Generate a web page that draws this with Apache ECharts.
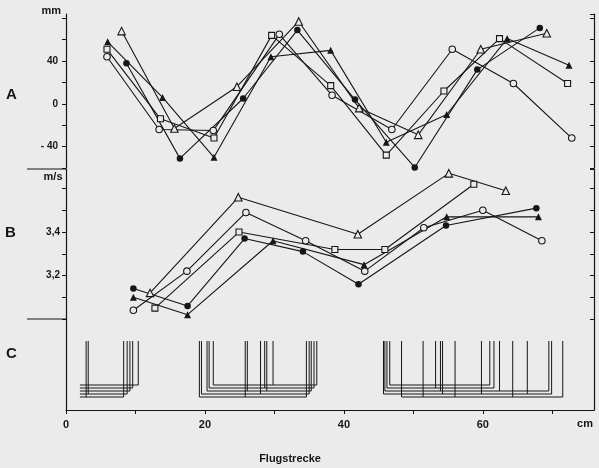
<!DOCTYPE html>
<html><head><meta charset="utf-8">
<script src="https://cdn.jsdelivr.net/npm/echarts@6/dist/echarts.min.js"></script>
<style>html,body{margin:0;padding:0;background:#ebebeb}#c{width:599px;height:468px}</style>
</head><body><div id="c"></div>
<script>
// ---------- Panel A : position (mm) over flight distance (cm) ----------
const aFilledCircleX = [8.7, 16.4, 25.5, 33.3, 41.6, 50.2, 59.2, 68.2];
const aFilledCircleY = [38, -51, 5, 69, 4, -59.5, 32, 71];
const aOpenCircleX   = [5.9, 13.4, 21.2, 30.7, 38.3, 46.9, 55.6, 64.4, 72.8];
const aOpenCircleY   = [44, -24, -25, 65, 8, -24, 51, 19, -32];
const aFilledTriX    = [6.0, 13.9, 21.3, 29.5, 38.1, 46.1, 54.8, 63.5, 72.4];
const aFilledTriY    = [58, 6, -50, 44, 50, -36, -10, 61, 36];
const aOpenTriX      = [8.0, 15.6, 24.6, 33.5, 42.2, 50.7, 59.7, 69.2];
const aOpenTriY      = [68, -23, 16, 77, -4, -29, 51, 66];
const aOpenSquareX   = [5.9, 13.6, 21.3, 29.6, 38.1, 46.1, 54.4, 62.4, 72.2];
const aOpenSquareY   = [51, -14, -32, 64, 17, -48, 12, 61, 19];

// ---------- Panel B : speed (m/s) over flight distance (cm) ----------
const bFilledCircleX = [9.7, 17.5, 25.7, 34.1, 42.1, 54.7, 67.7];
const bFilledCircleY = [3.14, 3.06, 3.37, 3.31, 3.16, 3.43, 3.51];
const bOpenCircleX   = [9.7, 17.4, 25.9, 34.5, 43.0, 51.5, 60.0, 68.5];
const bOpenCircleY   = [3.04, 3.22, 3.49, 3.36, 3.22, 3.42, 3.50, 3.36];
const bFilledTriX    = [9.7, 17.5, 29.8, 42.9, 54.8, 68.0];
const bFilledTriY    = [3.10, 3.02, 3.36, 3.25, 3.47, 3.47];
const bOpenTriX      = [12.1, 24.8, 42.0, 55.1, 63.3];
const bOpenTriY      = [3.12, 3.56, 3.39, 3.67, 3.59];
const bOpenSquareX   = [12.8, 24.9, 38.7, 45.9, 58.7];
const bOpenSquareY   = [3.05, 3.40, 3.32, 3.32, 3.62];

// ---------- Panel C : event records, 5 traces ----------
const cRecordStart = 2.0;
const cTrace0Bursts = [[2.0, 10.4], [21.2, 36.1], [46.6, 61.0]];
const cTrace1Bursts = [[2.0, 9.6],  [20.6, 35.7], [46.2, 61.6]];
const cTrace2Bursts = [[2.0, 9.2],  [20.3, 35.3], [45.9, 69.5]];
const cTrace3Bursts = [[2.0, 8.8],  [19.5, 35.0], [45.7, 69.9]];
const cTrace4Bursts = [[2.0, 8.3],  [19.2, 34.6], [48.3, 71.5]];
const cTrace0Spikes = [29.8];
const cTrace1Spikes = [28.6, 53.2];
const cTrace2Spikes = [26.1, 28.9, 53.9, 62.4];
const cTrace3Spikes = [3.2, 28.0, 54.2, 59.8, 66.4];
const cTrace4Spikes = [2.9, 25.8, 51.4, 56.0, 64.3];

// tick labels
const xTickLabels = [0, 20, 40, 60];
const aTickLabels = {'40': '40', '0': '0', '-40': '- 40'};
const bTickLabels = {'3.4': '3,4', '3.2': '3,2'};

const INK = '#161616', BG = '#ebebeb';
const FONT = '"Liberation Sans", Arial, sans-serif';

const symbols = {
  filledCircle: {symbol: 'circle', size: 6.5, fill: INK, open: false},
  openCircle:   {symbol: 'circle', size: 6.5, fill: BG, open: true},
  filledTri:    {symbol: 'triangle', size: 7, fill: INK, open: false},
  openTri:      {symbol: 'triangle', size: 7.5, fill: BG, open: true},
  openSquare:   {symbol: 'rect', size: 6, fill: BG, open: true}
};

const series = [];
function addSeries(gridIdx, xs, ys, sym) {
  const pts = xs.map((x, i) => [x, ys[i]]);
  series.push({type: 'line', xAxisIndex: gridIdx, yAxisIndex: gridIdx * 2, data: pts,
    symbol: 'none', lineStyle: {color: INK, width: 1.1}, z: 2, silent: true, animation: false});
  series.push({type: 'scatter', xAxisIndex: gridIdx, yAxisIndex: gridIdx * 2, data: pts,
    symbol: sym.symbol, symbolSize: sym.size,
    itemStyle: {color: sym.fill, borderColor: INK, borderWidth: sym.open ? 1.1 : 0, opacity: 1},
    z: 3, silent: true, animation: false});
}
addSeries(0, aFilledCircleX, aFilledCircleY, symbols.filledCircle);
addSeries(0, aOpenCircleX, aOpenCircleY, symbols.openCircle);
addSeries(0, aFilledTriX, aFilledTriY, symbols.filledTri);
addSeries(0, aOpenTriX, aOpenTriY, symbols.openTri);
addSeries(0, aOpenSquareX, aOpenSquareY, symbols.openSquare);
addSeries(1, bFilledCircleX, bFilledCircleY, symbols.filledCircle);
addSeries(1, bOpenCircleX, bOpenCircleY, symbols.openCircle);
addSeries(1, bFilledTriX, bFilledTriY, symbols.filledTri);
addSeries(1, bOpenTriX, bOpenTriY, symbols.openTri);
addSeries(1, bOpenSquareX, bOpenSquareY, symbols.openSquare);

// Panel C traces
const cBursts = [cTrace0Bursts, cTrace1Bursts, cTrace2Bursts, cTrace3Bursts, cTrace4Bursts];
const cSpikes = [cTrace0Spikes, cTrace1Spikes, cTrace2Spikes, cTrace3Spikes, cTrace4Spikes];
const C_TOP = 69, C_BASE0 = 25, C_STEP = 3;
const cLines = [];
cBursts.forEach((bursts, t) => {
  const base = C_BASE0 - t * C_STEP;
  bursts.forEach(([s, e]) => {
    const coords = [];
    if (s > cRecordStart) coords.push([s, C_TOP]);
    coords.push([s, base], [e, base], [e, C_TOP]);
    cLines.push({coords});
  });
  cSpikes[t].forEach(s => cLines.push({coords: [[s, C_TOP], [s, base]]}));
});
series.push({type: 'lines', coordinateSystem: 'cartesian2d', xAxisIndex: 2, yAxisIndex: 4,
  polyline: true, data: cLines, lineStyle: {color: INK, width: 1, opacity: 1}, z: 2,
  silent: true, animation: false});

const axisLine = {show: true, lineStyle: {color: INK, width: 1.2}};
const labelStyle = {color: INK, fontFamily: FONT, fontWeight: 'bold', fontSize: 10};

function yPair(grid, min, max, interval, fmt, margin) {
  return [
    {type: 'value', gridIndex: grid, min, max, interval, position: 'left',
     axisLine, splitLine: {show: false},
     axisTick: {show: interval != null, length: 4, lineStyle: {color: INK, width: 1}},
     axisLabel: fmt ? Object.assign({show: true, margin, formatter: fmt, showMaxLabel: false}, labelStyle) : {show: false}},
    {type: 'value', gridIndex: grid, min, max, interval, position: 'right',
     axisLine, splitLine: {show: false},
     axisTick: {show: interval != null, inside: true, length: 4, lineStyle: {color: INK, width: 1}},
     axisLabel: {show: false}}
  ];
}
const yAxes = [].concat(
  yPair(0, -60, 84, 20, v => aTickLabels[String(Math.round(v))] || '', 8),
  yPair(1, 3.0, 3.69, 0.1, v => bTickLabels[String(Math.round(v * 10) / 10)] || '', 6),
  yPair(2, 0, 91, null, null, 0)
);

const option = {
  backgroundColor: BG,
  animation: false,
  grid: [
    {left: 66, right: 5, top: 14, height: 154},
    {left: 66, right: 5, top: 169, height: 150},
    {left: 66, right: 5, top: 319, height: 91}
  ],
  xAxis: [
    {type: 'value', gridIndex: 0, min: 0, max: 76, show: false},
    {type: 'value', gridIndex: 1, min: 0, max: 76, show: false},
    {type: 'value', gridIndex: 2, min: 0, max: 76, interval: 10, axisLine,
     splitLine: {show: false},
     axisTick: {length: 4, lineStyle: {color: INK, width: 1}},
     axisLabel: Object.assign({}, labelStyle, {margin: 9, fontSize: 11, showMaxLabel: false,
       formatter: v => xTickLabels.indexOf(v) >= 0 ? String(v) : ''})}
  ],
  yAxis: yAxes,
  series,
  graphic: [
    {type: 'line', shape: {x1: 27, y1: 169, x2: 66, y2: 169}, style: {stroke: INK, lineWidth: 1.2}},
    {type: 'line', shape: {x1: 27, y1: 319, x2: 66, y2: 319}, style: {stroke: INK, lineWidth: 1.2}},
    {type: 'text', x: 11.5, y: 95, style: {text: 'A', font: 'bold 15px ' + FONT, fill: INK, textAlign: 'center', textVerticalAlign: 'middle', align: 'center', verticalAlign: 'middle'}},
    {type: 'text', x: 10.5, y: 233, style: {text: 'B', font: 'bold 15px ' + FONT, fill: INK, textAlign: 'center', textVerticalAlign: 'middle', align: 'center', verticalAlign: 'middle'}},
    {type: 'text', x: 11.5, y: 354, style: {text: 'C', font: 'bold 15px ' + FONT, fill: INK, textAlign: 'center', textVerticalAlign: 'middle', align: 'center', verticalAlign: 'middle'}},
    {type: 'text', x: 61, y: 10.5, style: {text: 'mm', font: 'bold 11px ' + FONT, fill: INK, textAlign: 'right', textVerticalAlign: 'middle', align: 'right', verticalAlign: 'middle'}},
    {type: 'text', x: 62.5, y: 177, style: {text: 'm/s', font: 'bold 11px ' + FONT, fill: INK, textAlign: 'right', textVerticalAlign: 'middle', align: 'right', verticalAlign: 'middle'}},
    {type: 'text', x: 585, y: 424, style: {text: 'cm', font: 'bold 11px ' + FONT, fill: INK, textAlign: 'center', textVerticalAlign: 'middle', align: 'center', verticalAlign: 'middle'}},
    {type: 'text', x: 290, y: 459, style: {text: 'Flugstrecke', font: 'bold 11px ' + FONT, fill: INK, textAlign: 'center', textVerticalAlign: 'middle', align: 'center', verticalAlign: 'middle'}}
  ]
};
const chart = echarts.init(document.getElementById('c'), null, {renderer: 'canvas'});
chart.setOption(option);
</script></body></html>
